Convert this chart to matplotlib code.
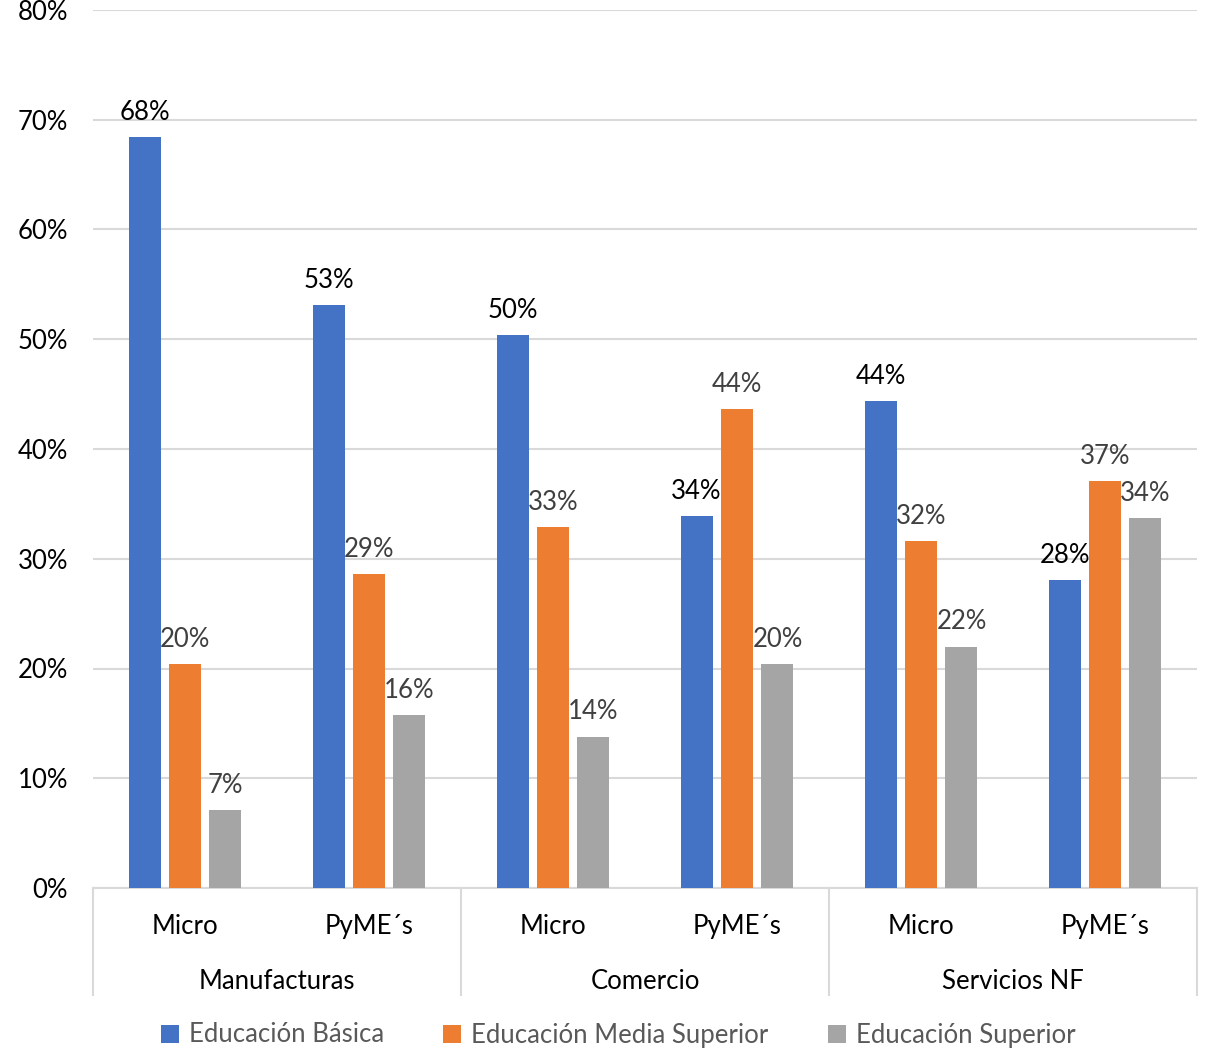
import numpy as np
import matplotlib.pyplot as plt
from matplotlib.ticker import PercentFormatter

plt.rcParams['font.family'] = ['Lato', 'DejaVu Sans']

# data
sectors = ['Manufacturas', 'Comercio', 'Servicios NF']
sizes = ['Micro', 'PyME´s']
basica = [68.4, 53.1, 50.4, 33.9, 44.4, 28.1]
media = [20.4, 28.6, 32.9, 43.6, 31.6, 37.1]
superior = [7.1, 15.8, 13.8, 20.4, 22.0, 33.7]
series = ['Educación Básica', 'Educación Media Superior', 'Educación Superior']
colors = ['#4472C4', '#ED7D31', '#A5A5A5']
label_colors = ['black', '#404040', '#404040']

fs = 18.5

fig = plt.figure(figsize=(12.05, 10.53), dpi=100)
ax = fig.add_axes([93 / 1205, 1 - 888 / 1053, (1197 - 93) / 1205, (888 - 10) / 1053])

x = np.arange(len(basica))
w = 0.174
offs = [-0.22, 0, 0.22]
for vals, off, c, lc, name in zip([basica, media, superior], offs, colors, label_colors, series):
    bars = ax.bar(x + off, vals, w, color=c, label=name, zorder=3)
    for b, v in zip(bars, vals):
        ax.text(b.get_x() + b.get_width() / 2, v + 1.1, f'{v:.0f}%', ha='center', va='bottom',
                fontsize=fs, color=lc)

ax.set_xlim(-0.5, 5.5)
ax.set_ylim(0, 80)
ax.set_yticks(range(0, 81, 10))
ax.yaxis.set_major_formatter(PercentFormatter(decimals=0))
ax.grid(axis='y', color='#d9d9d9', linewidth=1.5, zorder=0)
for s in ['top', 'right', 'left']:
    ax.spines[s].set_visible(False)
ax.spines['bottom'].set_color('#d9d9d9')
ax.spines['bottom'].set_linewidth(1.5)
ax.tick_params(axis='y', length=0, labelsize=fs, pad=18)
ax.set_xticks([])

# two level category axis
trans = ax.get_xaxis_transform()
for i in range(len(basica)):
    ax.text(i, -0.044, sizes[i % 2], transform=trans, ha='center', va='center', fontsize=fs)
for j, sec in enumerate(sectors):
    ax.text(2 * j + 0.5, -0.106, sec, transform=trans, ha='center', va='center', fontsize=fs)
for xb in [-0.5, 1.5, 3.5, 5.5]:
    ax.plot([xb, xb], [0, -0.122], transform=trans, color='#d9d9d9', lw=1.5, clip_on=False)

leg = fig.legend(loc='center', bbox_to_anchor=(0.513, 1 - 1035 / 1053), ncol=3, frameon=False,
                 fontsize=fs, handlelength=0.7, handleheight=0.7, columnspacing=2.3,
                 handletextpad=0.4)
for t in leg.get_texts():
    t.set_color('#595959')

plt.savefig('out.png')
